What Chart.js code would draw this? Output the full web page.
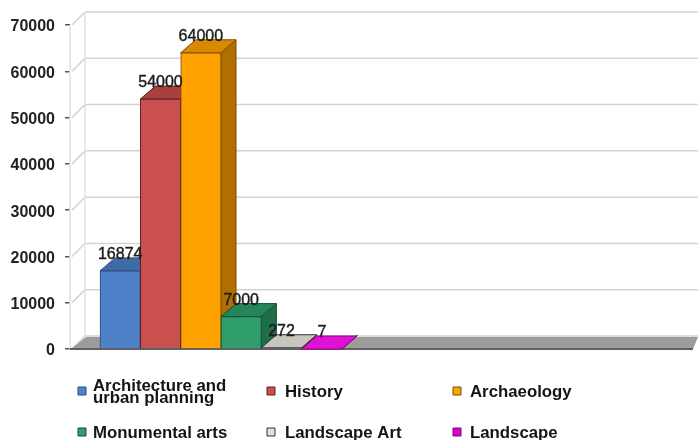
<!DOCTYPE html>
<html>
<head>
<meta charset="utf-8">
<title>Chart</title>
<script src="https://cdn.jsdelivr.net/npm/chart.js@4"></script>
<style>
  html, body { margin: 0; padding: 0; background: #fff; }
  canvas { display: block; }
</style>
</head>
<body>
<canvas id="chart" width="698" height="440"></canvas>
<script>
const categories = ['Architecture and urban planning', 'History', 'Archaeology', 'Monumental arts', 'Landscape Art', 'Landscape'];
const values = [16874, 54000, 64000, 7000, 272, 7];
const frontColors = ['#4f81c8', '#c9504f', '#ffa200', '#2f9e6c', '#e2dfd8', '#e000cc'];
const topColors = ['#3f6ca6', '#a8403f', '#d98a00', '#27845a', '#c9c6be', '#e010d4'];
const sideColors = ['#35598a', '#8a3433', '#b06f00', '#1f6d4a', '#b0ada6', '#b000a0'];
const edgeColors = ['#2c4a75', '#5c2020', '#7a4d00', '#145035', '#333333', '#8a0080'];

// legend: [column, row], the first label takes two lines
const legendLines = [['Architecture and', 'urban planning'], ['History'], ['Archaeology'], ['Monumental arts'], ['Landscape Art'], ['Landscape']];
const legendCols = [[78, 93], [267, 285], [453, 470]];
const legendRows = [392, 433];

// depth of the fake 3D
const DX = 15, DY = 13;

function poly(ctx, pts, fill, stroke) {
  ctx.beginPath();
  pts.forEach((p, i) => i ? ctx.lineTo(p[0], p[1]) : ctx.moveTo(p[0], p[1]));
  ctx.closePath();
  ctx.fillStyle = fill;
  ctx.fill();
  if (stroke) {
    ctx.strokeStyle = stroke;
    ctx.lineWidth = 1;
    ctx.stroke();
  }
}

const fake3d = {
  id: 'fake3d',
  beforeDatasetsDraw(chart) {
    const ctx = chart.ctx;
    const y = chart.scales.y;
    const left = chart.chartArea.left, right = chart.chartArea.right;
    const y0 = y.getPixelForValue(0);
    ctx.save();

    // walls and grid
    ctx.strokeStyle = '#d2d2d2';
    ctx.lineWidth = 1.5;
    y.ticks.forEach(t => {
      const py = y.getPixelForValue(t.value);
      ctx.beginPath();
      ctx.moveTo(left + 2, py);
      ctx.lineTo(left + DX, py - DY);
      ctx.lineTo(698, py - DY);
      ctx.stroke();
    });
    ctx.strokeStyle = '#e2e2e2';
    ctx.beginPath();
    ctx.moveTo(left + DX, y.getPixelForValue(70000) - DY);
    ctx.lineTo(left + DX, y0 - DY);
    ctx.moveTo(left, y.getPixelForValue(70000));
    ctx.lineTo(left, y0);
    ctx.stroke();

    // floor
    poly(ctx, [[left + 1, y0], [left + DX + 1, y0 - DY + 1], [698, y0 - DY + 1], [right, y0]], '#9c9c9c');
    ctx.strokeStyle = '#5f5f5f';
    ctx.lineWidth = 2;
    ctx.beginPath();
    ctx.moveTo(left, y0);
    ctx.lineTo(right, y0);
    ctx.stroke();

    // bar tops and sides
    chart.getDatasetMeta(0).data.forEach((bar, i) => {
      const l = bar.x - bar.width / 2, r = bar.x + bar.width / 2, t = bar.y, b = bar.base;
      poly(ctx, [[r, t], [r + DX, t - DY], [r + DX, b - DY], [r, b]], sideColors[i], edgeColors[i]);
      poly(ctx, [[l, t], [l + DX, t - DY], [r + DX, t - DY], [r, t]], topColors[i], edgeColors[i]);
    });
    ctx.restore();
  },
  afterDatasetsDraw(chart) {
    const ctx = chart.ctx;
    ctx.save();

    // value labels over the bars
    ctx.font = '16px "Liberation Sans"';
    ctx.fillStyle = '#1c1c1c';
    ctx.strokeStyle = '#1c1c1c';
    ctx.lineWidth = 0.4;
    ctx.textAlign = 'center';
    ctx.textBaseline = 'middle';
    chart.getDatasetMeta(0).data.forEach((bar, i) => {
      ctx.fillText(String(values[i]), bar.x, bar.y - 16);
      ctx.strokeText(String(values[i]), bar.x, bar.y - 16);
    });

    // legend
    ctx.font = 'bold 16.8px "Liberation Sans"';
    ctx.textAlign = 'left';
    categories.forEach((c, i) => {
      const col = legendCols[i % 3], rowY = legendRows[Math.floor(i / 3)];
      const my = rowY - 1;
      poly(ctx, [[col[0], my - 4], [col[0] + 8, my - 4], [col[0] + 8, my + 4], [col[0], my + 4]], frontColors[i], edgeColors[i]);
      const lines = legendLines[i];
      ctx.fillStyle = '#141414';
      lines.forEach((line, k) => {
        ctx.fillText(line, col[1], rowY + (k - (lines.length - 1) / 2) * 12);
      });
    });
    ctx.restore();
  }
};

new Chart(document.getElementById('chart'), {
  type: 'bar',
  data: {
    labels: categories,
    datasets: [{
      data: values.map((v, i) => ({ x: i, y: v })),
      backgroundColor: frontColors,
      borderColor: edgeColors,
      borderWidth: 1,
      barPercentage: 1,
      categoryPercentage: 1
    }]
  },
  options: {
    responsive: false,
    animation: false,
    layout: { padding: { top: 25, bottom: 91, right: 5, left: 0 } },
    plugins: { legend: { display: false }, tooltip: { enabled: false } },
    scales: {
      x: { type: 'linear', display: false, offset: false, min: -1.244, max: 14.2 },
      y: {
        min: 0,
        max: 70000,
        afterFit(scale) { scale.width = 70; },
        border: { display: false },
        grid: { drawOnChartArea: false, drawTicks: true, tickLength: 5, color: '#555555', lineWidth: 1.5 },
        ticks: {
          stepSize: 10000,
          padding: 10,
          labelOffset: 2,
          color: '#222222',
          font: { family: '"Liberation Sans"', size: 16, weight: 'bold' },
          callback: v => String(v)
        }
      }
    }
  },
  plugins: [fake3d]
});
</script>
</body>
</html>
